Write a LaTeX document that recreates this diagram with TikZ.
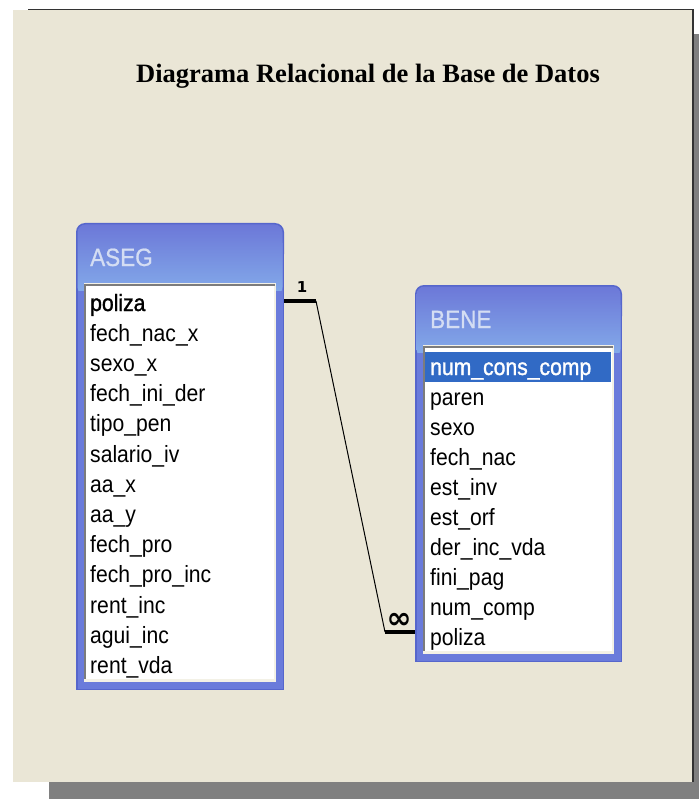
\documentclass[tikz,border=0pt]{standalone}
\usepackage{fontspec}
\setmainfont{Liberation Serif}
\newfontfamily\tah[FakeStretch=0.9]{Liberation Sans}
\newfontfamily\tahb[FakeStretch=0.9,FakeBold=1.3]{Liberation Sans}
\newfontfamily\tahtitle[FakeStretch=0.9,FakeBold=0.8]{Liberation Sans}
\newfontfamily\djv{DejaVu Sans}
\definecolor{beige}{HTML}{EAE6D6}
\definecolor{shadowgray}{HTML}{808080}
\definecolor{framefill}{HTML}{6A7BDB}
\definecolor{frameedge}{HTML}{5666CC}
\definecolor{bandtop}{HTML}{6C78D8}
\definecolor{bandbot}{HTML}{84ACEA}
\definecolor{titlecol}{HTML}{D4DDF3}
\definecolor{selblue}{HTML}{316AC5}
\definecolor{insetgray}{HTML}{7C7C7C}
\definecolor{insetlight}{HTML}{F3F1E6}
\tikzset{
  rowtext/.style={anchor=base west, inner sep=0pt, font=\tah\fontsize{23.5}{23.5}\selectfont, text=black},
  keytext/.style={rowtext, font=\tahb\fontsize{23.5}{23.5}\selectfont},
  tabtitle/.style={anchor=base west, inner sep=0pt, font=\tahtitle\fontsize{25}{25}\selectfont, text=titlecol},
  thickrel/.style={line width=4pt, black},
  thinrel/.style={line width=1pt, black},
}
% #1 x1, #2 y1, #3 x2, #4 y2, #5 white top, #6 white bottom
\newcommand\dbframe[6]{%
  \fill[frameedge, rounded corners=9pt] (#1,#2) rectangle (#3,#2+40);
  \fill[frameedge] (#1,#2+20) rectangle (#3,#4);
  \fill[framefill] (#1+1.5,#2+20) rectangle (#3-1.5,#4-1.5);
  \shade[top color=bandtop, bottom color=bandbot, rounded corners=8pt] (#1+1.5,#2+1.5) rectangle (#3-1.5,#5+12);
  \fill[framefill] (#1+1.5,#5+8) rectangle (#1+8,#4-1.5);
  \fill[framefill] (#3-8,#5+8) rectangle (#3-1.5,#4-1.5);
  \fill[insetlight] (#1+8,#5) rectangle (#3-8,#6+3);
  \fill[white] (#1+9.5,#5+2) rectangle (#3-10,#6);
  \draw[insetgray, line width=2pt] (#1+9,#6) -- (#1+9,#5+1.5) -- (#3-9,#5+1.5);
}
\begin{document}
\begin{tikzpicture}[x=1pt,y=-1pt]
\useasboundingbox (0,0) rectangle (699,799);
% page
\fill[shadowgray] (49,34) rectangle (699,799);
\fill[beige] (13,10) rectangle (693,782);
\draw[black!80, line width=1.5pt] (28,9.5) -- (693,9.5) -- (693,782);
% title
\node[font=\bfseries\fontsize{26.5}{26.5}\selectfont, inner sep=0pt] (title) at (368,76) {Diagrama Relacional de la Base de Datos};

% ASEG table
\dbframe{76}{223}{284}{690}{283}{679}
\node[tabtitle] (asegtitle) at (90,266) {ASEG};
\node[keytext] (a1) at (90,311) {poliza};
\foreach \t [count=\i from 2] in {fech\_nac\_x,sexo\_x,fech\_ini\_der,tipo\_pen,salario\_iv,aa\_x,aa\_y,fech\_pro,fech\_pro\_inc,rent\_inc,agui\_inc,rent\_vda}
  \node[rowtext] (a\i) at (90,{311+30.2*(\i-1)}) {\t};

% BENE table
\dbframe{415}{285}{622}{662}{345}{651}
\node[tabtitle] (benetitle) at (430,328) {BENE};
\fill[selblue] (425,352) rectangle (611,382);
\node[keytext, text=white] (b1) at (430,375) {num\_cons\_comp};
\foreach \t [count=\i from 2] in {paren,sexo,fech\_nac,est\_inv,est\_orf,der\_inc\_vda,fini\_pag,num\_comp,poliza}
  \node[rowtext] (b\i) at (430,{375+30*(\i-1)}) {\t};

% relationship
\coordinate (r0) at (284,301);
\coordinate (r1) at (316,301);
\coordinate (r2) at (385,632);
\coordinate (r3) at (415,632);
\draw[thickrel] (r0) -- (r1);
\draw[thinrel] (r1) -- (r2);
\draw[thickrel] (r2) -- (r3);
\node[font=\djv\bfseries\fontsize{15}{15}\selectfont, inner sep=0pt] (one) at (302,287) {1};
\node[font=\djv\bfseries\fontsize{30}{30}\selectfont, inner sep=0pt] (many) at (399,621) {∞};
\end{tikzpicture}
\end{document}
